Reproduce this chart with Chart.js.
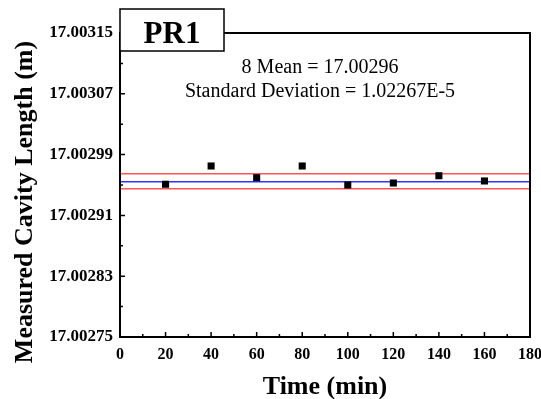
<!DOCTYPE html>
<html>
<head>
<meta charset="utf-8">
<script src="https://cdn.jsdelivr.net/npm/chart.js@4.4.0/dist/chart.umd.min.js"></script>
<style>
  html, body { margin: 0; padding: 0; background: #ffffff; }
  #wrap { width: 541px; height: 399px; position: relative; }
</style>
</head>
<body>
<div id="wrap"><canvas id="c" width="541" height="399"></canvas></div>
<script>
// ---- data ----
const times = [20, 40, 60, 80, 100, 120, 140, 160];
const lengths = [17.002951, 17.002975, 17.0029596, 17.002975, 17.002950, 17.0029526, 17.0029622, 17.0029553];
const meanValue = 17.0029543;
const upperValue = 17.0029649;
const lowerValue = 17.0029451;
const xRange = [0, 180];
const xTicks = [0, 20, 40, 60, 80, 100, 120, 140, 160, 180];
const xMinorTicks = [10, 30, 50, 70, 90, 110, 130, 150, 170];
const yTicks = [17.00275, 17.00283, 17.00291, 17.00299, 17.00307, 17.00315];
const yMinorTicks = [17.00279, 17.00287, 17.00295, 17.00303, 17.00311];
const panelLabel = 'PR1';
const annotationLines = ['8 Mean = 17.00296', 'Standard Deviation = 1.02267E-5'];
const xTitle = 'Time (min)';
const yTitle = 'Measured Cavity Length (m)';

const FONT = '"Liberation Serif", "Times New Roman", serif';

const points = times.map((t, i) => ({ x: t, y: lengths[i] }));
const hline = v => xRange.map(x => ({ x: x, y: v }));

const framePlugin = {
  id: 'frame',
  afterDraw(chart) {
    const ctx = chart.ctx;
    const a = chart.chartArea;
    const xs = chart.scales.x, ys = chart.scales.y;
    ctx.save();
    ctx.strokeStyle = '#000';
    // frame
    ctx.lineWidth = 2;
    ctx.strokeRect(a.left, a.top, a.right - a.left, a.bottom - a.top);
    // inward ticks
    ctx.lineWidth = 1.5;
    ctx.beginPath();
    xTicks.forEach(v => { const p = xs.getPixelForValue(v); ctx.moveTo(p, a.bottom); ctx.lineTo(p, a.bottom - 5); });
    xMinorTicks.forEach(v => { const p = xs.getPixelForValue(v); ctx.moveTo(p, a.bottom); ctx.lineTo(p, a.bottom - 3); });
    yTicks.forEach(v => { const p = ys.getPixelForValue(v); ctx.moveTo(a.left, p); ctx.lineTo(a.left + 5, p); });
    yMinorTicks.forEach(v => { const p = ys.getPixelForValue(v); ctx.moveTo(a.left, p); ctx.lineTo(a.left + 3, p); });
    ctx.stroke();

    // PR1 box
    ctx.fillStyle = '#fff';
    ctx.fillRect(a.left, 9, 104, 42);
    ctx.lineWidth = 1.5;
    ctx.strokeRect(a.left, 9, 104, 42);
    ctx.fillStyle = '#000';
    ctx.font = 'bold 31px ' + FONT;
    ctx.textAlign = 'center';
    ctx.textBaseline = 'alphabetic';
    ctx.fillText(panelLabel, a.left + 52, 43);

    // annotation
    ctx.font = '20px ' + FONT;
    ctx.fillText(annotationLines[0], 320, 73);
    ctx.fillText(annotationLines[1], 320, 97);

    // axis titles
    ctx.font = 'bold 26px ' + FONT;
    ctx.fillText(xTitle, (a.left + a.right) / 2, 394);
    ctx.save();
    ctx.translate(25, 202);
    ctx.rotate(-Math.PI / 2);
    ctx.textBaseline = 'middle';
    ctx.fillText(yTitle, 0, 0);
    ctx.restore();
    ctx.restore();
  }
};

new Chart(document.getElementById('c'), {
  type: 'scatter',
  data: {
    datasets: [
      { label: 'data', data: points, pointStyle: 'rect', pointRadius: 5, pointHoverRadius: 5,
        backgroundColor: '#000', borderColor: '#000', borderWidth: 0, showLine: false, order: 0 },
      { label: 'mean', data: hline(meanValue), showLine: true, borderColor: '#3333ff', borderWidth: 1.5,
        pointRadius: 0, order: 1 },
      { label: 'upper', data: hline(upperValue), showLine: true, borderColor: '#ff5555', borderWidth: 1.5,
        pointRadius: 0, order: 2 },
      { label: 'lower', data: hline(lowerValue), showLine: true, borderColor: '#ff5555', borderWidth: 1.5,
        pointRadius: 0, order: 2 }
    ]
  },
  options: {
    responsive: false,
    animation: false,
    events: [],
    layout: { padding: { top: 33, right: 11, left: 0, bottom: 0 } },
    plugins: { legend: { display: false }, tooltip: { enabled: false }, title: { display: false } },
    scales: {
      x: {
        type: 'linear', min: xRange[0], max: xRange[1],
        grid: { display: false, drawTicks: false }, border: { display: false },
        afterBuildTicks: s => { s.ticks = xTicks.map(v => ({ value: v })); },
        afterFit: s => { s.height = 62; s.paddingLeft = 0; s.paddingRight = 0; },
        ticks: { color: '#000', padding: 8, maxRotation: 0, autoSkip: false,
                 font: { family: FONT, size: 16, weight: 'bold' }, callback: v => String(v) }
      },
      y: {
        type: 'linear', min: yTicks[0], max: yTicks[yTicks.length - 1],
        grid: { display: false, drawTicks: false }, border: { display: false },
        afterBuildTicks: s => { s.ticks = yTicks.map(v => ({ value: v })); },
        afterFit: s => { s.width = 120; s.paddingTop = 0; s.paddingBottom = 0; },
        ticks: { color: '#000', padding: 7, autoSkip: false,
                 font: { family: FONT, size: 17, weight: 'bold' }, callback: v => Number(v).toFixed(5) }
      }
    }
  },
  plugins: [framePlugin]
});
</script>
</body>
</html>
